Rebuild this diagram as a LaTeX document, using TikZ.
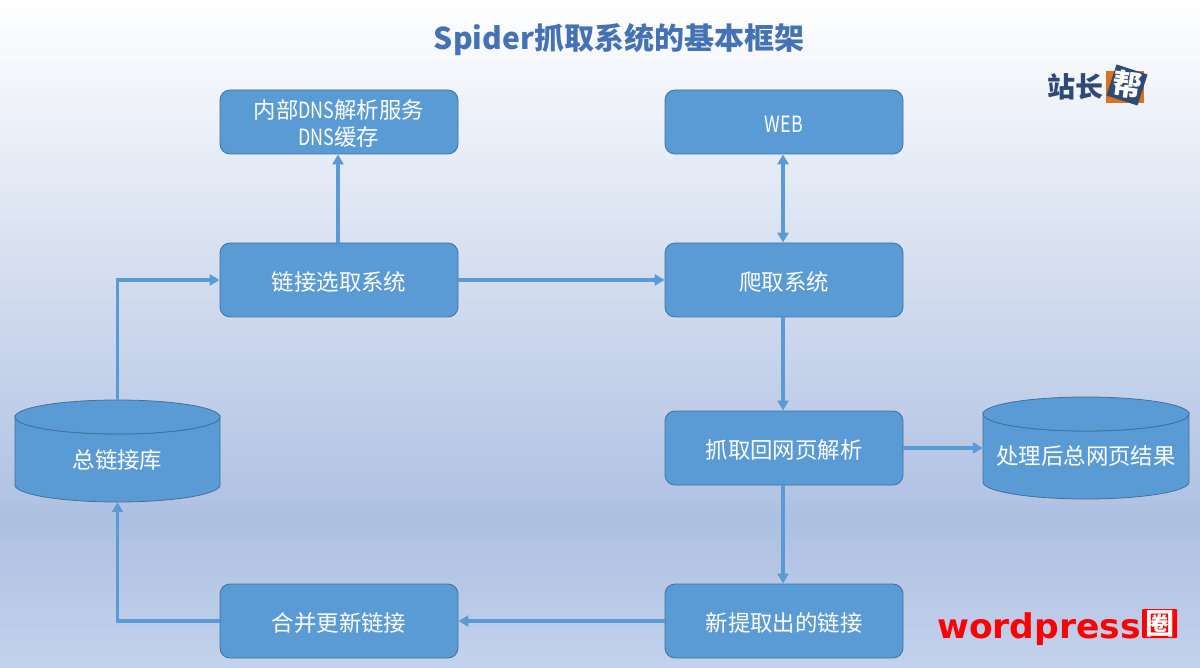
\documentclass[tikz,border=0pt]{standalone}
\usepackage{fontspec}
\setmainfont{Noto Sans CJK SC}
\newfontfamily\wpfont{DejaVu Sans}
\usetikzlibrary{arrows.meta,calc}
\definecolor{boxfill}{HTML}{5B9BD5}
\definecolor{boxedge}{HTML}{41719C}
\definecolor{titleblue}{HTML}{4472B4}
\definecolor{logoblue}{HTML}{2F4A75}
\definecolor{logoorange}{HTML}{D9731F}
\definecolor{bgmid}{HTML}{AEC0E2}
\definecolor{bgend}{HTML}{C3D2EC}
\newcommand\tx[2][-10.5pt]{\raisebox{#1}[0pt][0pt]{#2}}
\newcommand\nrw[1]{\scalebox{0.8}[1]{#1}}
\tikzset{
  flowbox/.style={draw=boxedge,line width=0.8pt,fill=boxfill,rounded corners=10pt,text=white,
    minimum width=238pt,align=center,font=\fontsize{22.4}{27}\selectfont,inner sep=0pt},
  dbbox/.style={text=white,minimum width=205pt,minimum height=102pt,inner sep=0pt,font=\fontsize{22.4}{27}\selectfont},
  dbshape/.style={draw=boxedge,line width=0.8pt,fill=boxfill},
  link/.style={draw=boxfill,line width=3.4pt,-{Triangle[length=10pt,width=11pt]}},
  biglink/.style={draw=boxfill,line width=3.4pt,{Triangle[length=10pt,width=11pt]}-{Triangle[length=10pt,width=11pt]}},
}
\begin{document}
\begin{tikzpicture}[x=1pt,y=-1pt]
\useasboundingbox (0,0) rectangle (1200,668);
\shade[top color=white,bottom color=bgmid] (0,0) rectangle (1200,520);
\shade[top color=bgmid,bottom color=bgend] (0,520) rectangle (1200,668);
\node (title) at (619,38) {\fontsize{30}{32}\selectfont\bfseries\color{titleblue}\tx[-11.4pt]{Spider抓取系统的基本框架}};
% cylinders
\foreach \cx/\top/\bot/\rx in {117.5/417/485/102.5, 1086/414/482/103}{
  \path[dbshape] (\cx-\rx,\top) arc[start angle=180,end angle=0,x radius=\rx,y radius=17]
     -- (\cx+\rx,\bot) arc[start angle=0,end angle=-180,x radius=\rx,y radius=-17] -- cycle;
  \path[dbshape] (\cx,\top) ellipse[x radius=\rx,y radius=17];
}
\node[flowbox,minimum height=64pt] (dns) at (339,122) {\tx{内部\nrw{DNS}解析服务}\\\tx{\nrw{DNS}缓存}};
\node[flowbox,minimum height=64pt] (web) at (784,122) {\tx{\nrw{WEB}}};
\node[flowbox,minimum height=74pt] (select) at (339,280) {\tx{链接选取系统}};
\node[flowbox,minimum height=74pt] (crawl) at (784,280) {\tx{爬取系统}};
\node[flowbox,minimum height=74pt] (parse) at (784,448) {\tx{抓取回网页解析}};
\node[flowbox,minimum height=74pt] (newlink) at (784,621) {\tx{新提取出的链接}};
\node[flowbox,minimum height=74pt] (merge) at (339,621) {\tx{合并更新链接}};
\node[dbbox] (store) at (117.5,451) {\tx[-17.5pt]{总链接库}};
\node[dbbox,minimum width=206pt] (result) at (1086,448) {\tx[-16.5pt]{处理后总网页结果}};
\draw[link] ([xshift=-1pt]select.north) -- ([xshift=-1pt]dns.south);
\draw[biglink] ([xshift=-1pt]crawl.north) -- ([xshift=-1pt]web.south);
\draw[link] (select) -- (crawl);
\draw[link] ([xshift=-1pt]crawl.south) -- ([xshift=-1pt]parse.north);
\draw[link] (parse) -- (result);
\draw[link] ([xshift=-1pt]parse.south) -- ([xshift=-1pt]newlink.north);
\draw[link] (newlink) -- (merge);
\draw[link] (merge.west) -| (store.south);
\draw[link] (store.north) |- (select.west);
% logo
\node[fill=logoorange,minimum width=38pt,minimum height=32pt,inner sep=0pt] (logoback) at (1125,87) {};
\node[fill=logoblue,minimum size=32.6pt,rotate=-18,inner sep=0pt] (logofront) at (1127,85) {};
\node[text=white,rotate=-8,inner sep=0pt,font=\fontsize{29}{29}\selectfont\bfseries] (logochar) at (1127,85) {帮};
\node[text=logoblue,font=\fontsize{28}{28}\selectfont\bfseries,inner sep=0pt] (logotext) at (1075,87) {站长};
% watermark
\node[text=red,inner sep=0pt,anchor=base west,xscale=1.015,font=\wpfont\fontsize{34}{34}\selectfont\bfseries] (wm) at (937,638) {wordpress};
\node[fill=red,text=white,minimum width=35pt,minimum height=29pt,inner sep=0pt,rounded corners=1pt,font=\fontsize{29}{29}\selectfont\bfseries] (wmq) at (1159.5,623.5) {圈};
\end{tikzpicture}
\end{document}
